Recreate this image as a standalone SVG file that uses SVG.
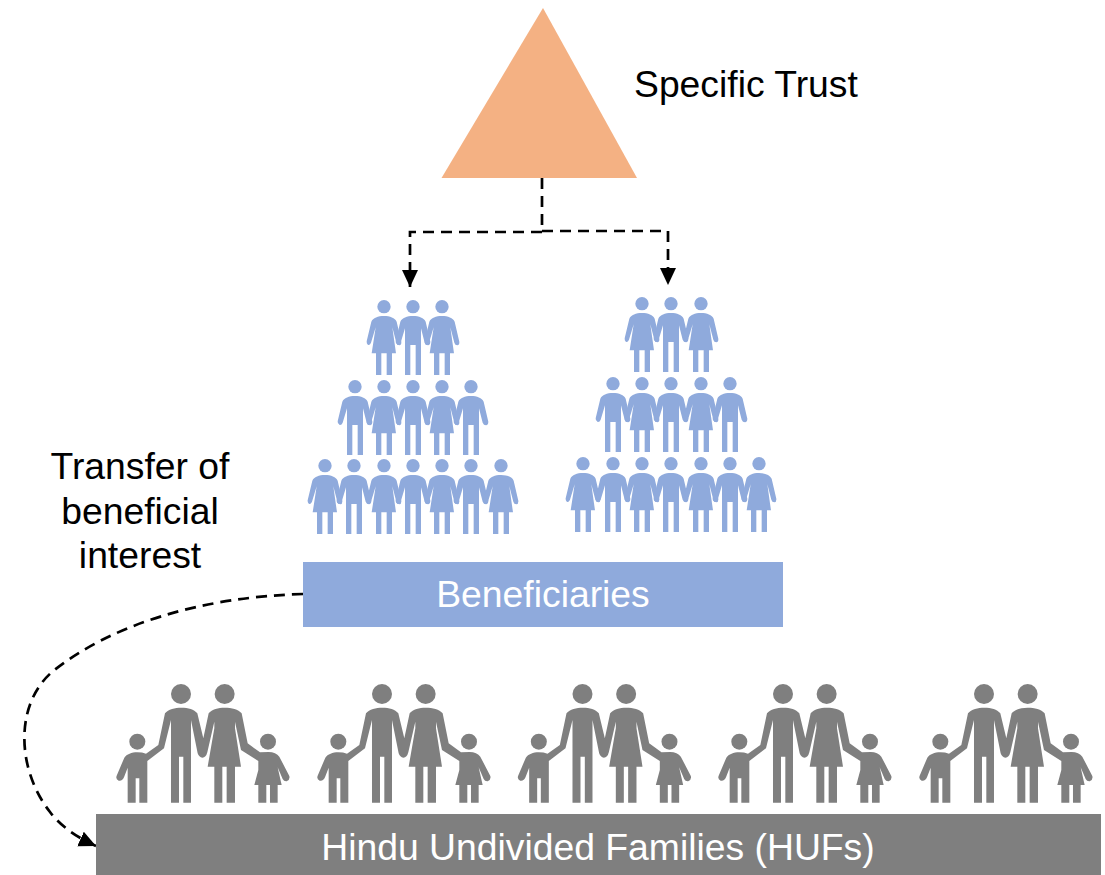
<svg xmlns="http://www.w3.org/2000/svg" width="1105" height="875" viewBox="0 0 1105 875">
<style>
text{font-family:"Liberation Sans",Arial,sans-serif;font-size:37.3px}
.w{fill:#fff}.k{fill:#000}.m{text-anchor:middle}
.c{fill:none;stroke:#000;stroke-width:2.7;stroke-dasharray:11 7}
.b{fill:#8faadc}.g{fill:#7f7f7f}
</style>
<defs>
<marker id="ah" markerUnits="userSpaceOnUse" markerWidth="20" markerHeight="18" refX="17" refY="8" orient="auto"><path d="M0 0L17 8L0 16Z" fill="#000"/></marker>
<g id="woman"><circle cx="72" cy="50" r="20"/><path d="M72 78C90 78 105 84 110 95L124 155Q125 165 118 166Q111 166 109 158L97 112L108 190H96V255H80V190H64V255H48V190H35L47 112L33 158Q30 166 24 165Q19 160 20 154L34 95C39 84 54 78 72 78Z"/></g>
<g id="man"><circle cx="72" cy="50" r="20"/><path d="M72 78C90 78 105 84 110 95L124 155Q124 165 117 166Q110 166 107 158L96 115V255H80V165H64V255H48V115L35 158Q32 166 26 165Q19 162 20 154L34 95C39 84 54 78 72 78Z"/></g>
<g id="family">
<circle cx="213" cy="57" r="30"/><circle cx="344" cy="57" r="30"/><circle cx="82" cy="200" r="24"/><circle cx="474" cy="200" r="24"/>
<path d="M82 232Q97 232 108 236L145 210L165 115C175 103 195 98 214 98C235 98 252 103 262 115L280 190L296 115C306 103 325 98 344 98C365 98 385 103 395 115L413 205L450 232Q462 231 476 231C490 231 502 236 508 245L538 303Q541 314 530 319Q522 320 518 312L503 277L515 330H503V383H480V330H469V383H445V330H433L445 285V258L393 225L375 140V160L393 275H375V383H350V275H337V383H313V275H293L313 160V140L292 232Q288 248 277 248Q267 247 263 235L243 135V383H220V245H207V383H183V135L162 220L112 258V383H88V310H77V383H53V278L42 307Q37 319 26 317Q16 312 20 302L43 248C50 238 65 232 82 232Z"/>
</g>
</defs>
<g id="trust"><polygon points="543,8 637,178 441.500,178" fill="#f4b183"/><text x="634" y="97" class="k">Specific Trust</text></g>
<g id="connectors">
<path class="c" d="M542 178V231"/>
<path class="c" d="M542 232H410V287" marker-end="url(#ah)"/>
<path class="c" d="M542 231H668V285" marker-end="url(#ah)"/>
<path class="c" d="M303 594C200 597 110 625 52 672C14 705 17 770 50 812Q65 832 96 846" marker-end="url(#ah)"/>
</g>
<g id="beneficiaries-left" class="b">
<use href="#woman" transform="translate(360 290) scale(.3333)"/><use href="#man" transform="translate(389 290) scale(.3333)"/><use href="#woman" transform="translate(418 290) scale(.3333)"/>
<use href="#man" transform="translate(331 370) scale(.3333)"/><use href="#woman" transform="translate(360 370) scale(.3333)"/><use href="#man" transform="translate(389 370) scale(.3333)"/><use href="#woman" transform="translate(418 370) scale(.3333)"/><use href="#man" transform="translate(447 370) scale(.3333)"/>
<use href="#woman" transform="translate(301 449) scale(.3333)"/><use href="#man" transform="translate(330 449) scale(.3333)"/><use href="#woman" transform="translate(360 449) scale(.3333)"/><use href="#man" transform="translate(389 449) scale(.3333)"/><use href="#woman" transform="translate(418 449) scale(.3333)"/><use href="#man" transform="translate(447 449) scale(.3333)"/><use href="#woman" transform="translate(477 449) scale(.3333)"/>
</g>
<g id="beneficiaries-right" class="b">
<use href="#woman" transform="translate(618 287) scale(.3333)"/><use href="#man" transform="translate(647 287) scale(.3333)"/><use href="#woman" transform="translate(677 287) scale(.3333)"/>
<use href="#man" transform="translate(589 367) scale(.3333)"/><use href="#woman" transform="translate(618 367) scale(.3333)"/><use href="#man" transform="translate(647 367) scale(.3333)"/><use href="#woman" transform="translate(677 367) scale(.3333)"/><use href="#man" transform="translate(706 367) scale(.3333)"/>
<use href="#woman" transform="translate(559 447) scale(.3333)"/><use href="#man" transform="translate(589 447) scale(.3333)"/><use href="#woman" transform="translate(618 447) scale(.3333)"/><use href="#man" transform="translate(647 447) scale(.3333)"/><use href="#woman" transform="translate(677 447) scale(.3333)"/><use href="#man" transform="translate(706 447) scale(.3333)"/><use href="#woman" transform="translate(735 447) scale(.3333)"/>
</g>
<g id="transfer-label"><text x="140" y="479" class="k m">Transfer of</text><text x="140" y="524" class="k m">beneficial</text><text x="140" y="568" class="k m">interest</text></g>
<g id="beneficiaries-box"><rect x="303" y="562" width="480" height="65" class="b"/><text x="543" y="607" class="w m">Beneficiaries</text></g>
<g id="families" class="g">
<use href="#family" transform="translate(110 675) scale(.3333)"/>
<use href="#family" transform="translate(311 675) scale(.3333)"/>
<use href="#family" transform="translate(511.500 675) scale(.3333)"/>
<use href="#family" transform="translate(712 675) scale(.3333)"/>
<use href="#family" transform="translate(913 675) scale(.3333)"/>
</g>
<g id="huf-box"><rect x="96" y="814" width="1005" height="61" class="g"/><text x="598" y="860" class="w m">Hindu Undivided Families (HUFs)</text></g>
</svg>
